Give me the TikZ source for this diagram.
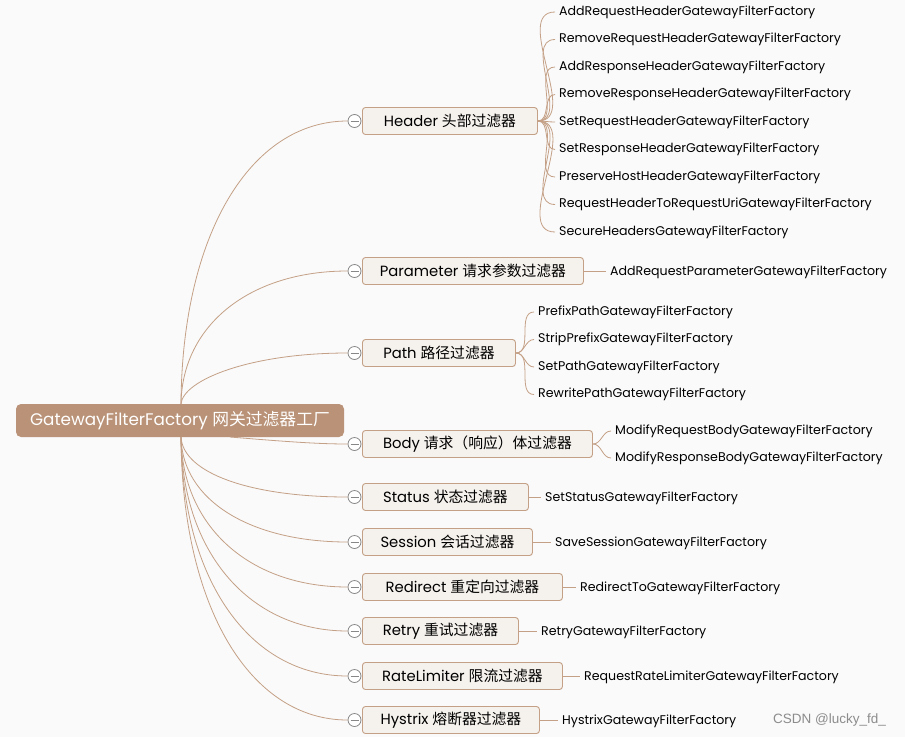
\documentclass[tikz,border=0pt]{standalone}
\usepackage{fontspec}
\setmainfont{Poppins}
\newfontfamily\cjk{Noto Sans CJK SC}
\newfontfamily\markfont{Liberation Sans}
\definecolor{bgcol}{RGB}{250,250,250}
\definecolor{rootcol}{RGB}{185,146,119}
\definecolor{linecol}{RGB}{196,160,134}
\definecolor{boxcol}{RGB}{245,241,236}
\definecolor{foldcol}{RGB}{135,135,135}
\tikzset{
  link/.style={draw=linecol, line width=0.8pt},
  rootbox/.style={fill=rootcol, text=white, rounded corners=5pt, minimum width=328pt,
    minimum height=33pt, inner sep=0pt, font=\fontsize{16.8}{19}\selectfont},
  topic/.style={anchor=west, draw=linecol, fill=boxcol, rounded corners=3pt, line width=0.9pt,
    minimum height=27pt, inner sep=0pt, font=\fontsize{14.8}{17}\selectfont},
  leaf/.style={anchor=west, inner sep=0pt, font=\fontsize{12.6}{14}\selectfont},
  fold/.style={circle, draw=foldcol, fill=white, minimum size=13pt, inner sep=0pt, line width=0.8pt,
    path picture={\draw[foldcol, line width=0.8pt] ([xshift=2.5pt]path picture bounding box.west)
      -- ([xshift=-2.5pt]path picture bounding box.east);}}
}
\begin{document}
\begin{tikzpicture}[x=1pt,y=-1pt]
\fill[bgcol] (0,0) rectangle (905,737);
\useasboundingbox (0,0) rectangle (905,737);

% root
\node[rootbox] (root) at (180,420.5) {GatewayFilterFactory {\cjk 网关过滤器工厂}};
\coordinate (rtop) at (181,404);
\coordinate (rbot) at (181,437);
\coordinate (rside) at (230,437);

% first level
\node[topic, minimum width=175pt] (hdr) at (362,121) {Header {\cjk 头部过滤器}};
\node[topic, minimum width=221pt] (par) at (362,271) {Parameter {\cjk 请求参数过滤器}};
\node[topic, minimum width=153pt] (pth) at (362,353) {Path {\cjk 路径过滤器}};
\node[topic, minimum width=230pt] (bdy) at (362,444) {Body {\cjk 请求（响应）体过滤器}};
\node[topic, minimum width=166pt] (sts) at (362,497) {Status {\cjk 状态过滤器}};
\node[topic, minimum width=170pt] (ses) at (362,542) {Session {\cjk 会话过滤器}};
\node[topic, minimum width=200pt] (rdr) at (362,587) {Redirect {\cjk 重定向过滤器}};
\node[topic, minimum width=156pt] (rty) at (362,631) {Retry {\cjk 重试过滤器}};
\node[topic, minimum width=200pt] (rtl) at (362,676) {RateLimiter {\cjk 限流过滤器}};
\node[topic, minimum width=177pt] (hys) at (362,720) {Hystrix {\cjk 熔断器过滤器}};

% fold marks
\node[fold] (hdr-c) at (354.5,121) {};
\node[fold] (par-c) at (354.5,271) {};
\node[fold] (pth-c) at (354.5,353) {};
\node[fold] (bdy-c) at (354.5,444) {};
\node[fold] (sts-c) at (354.5,497) {};
\node[fold] (ses-c) at (354.5,542) {};
\node[fold] (rdr-c) at (354.5,587) {};
\node[fold] (rty-c) at (354.5,631) {};
\node[fold] (rtl-c) at (354.5,676) {};
\node[fold] (hys-c) at (354.5,720) {};

% root to first level
\draw[link] (rtop) .. controls (182,235) and (250,121) .. (hdr-c.west);
\draw[link] (rtop) .. controls (182,325) and (250,271) .. (par-c.west);
\draw[link] (rtop) .. controls (183,380) and (250,353) .. (pth-c.west);
\draw[link] (rside) .. controls (290,442) and (320,444) .. (bdy-c.west);
\draw[link] (rbot) .. controls (183,473) and (250,497) .. (sts-c.west);
\draw[link] (rbot) .. controls (182,500) and (250,542) .. (ses-c.west);
\draw[link] (rbot) .. controls (182,527) and (250,587) .. (rdr-c.west);
\draw[link] (rbot) .. controls (182,553) and (250,631) .. (rty-c.west);
\draw[link] (rbot) .. controls (182,580) and (250,676) .. (rtl-c.west);
\draw[link] (rbot) .. controls (182,607) and (250,720) .. (hys-c.west);

% header leaves
\foreach \lf [count=\i from 0] in {AddRequestHeader,RemoveRequestHeader,AddResponseHeader,
    RemoveResponseHeader,SetRequestHeader,SetResponseHeader,PreserveHostHeader,
    RequestHeaderToRequestUri,SecureHeaders} {
  \node[leaf] (hdr-\i) at (559,12+27.5*\i) {\lf{}GatewayFilterFactory};
  \draw[link] (hdr.east) to[out=0,in=180] ([xshift=-4pt]hdr-\i.west);
}

% path leaves
\foreach \lf [count=\i from 0] in {PrefixPath,StripPrefix,SetPath,RewritePath} {
  \node[leaf] (pth-\i) at (538,312+27.5*\i) {\lf{}GatewayFilterFactory};
  \draw[link] (pth.east) to[out=0,in=180] ([xshift=-4pt]pth-\i.west);
}

% body leaves
\node[leaf] (bdy-0) at (615,431) {ModifyRequestBodyGatewayFilterFactory};
\node[leaf] (bdy-1) at (615,458) {ModifyResponseBodyGatewayFilterFactory};
\draw[link] (bdy.east) to[out=0,in=180] ([xshift=-4pt]bdy-0.west);
\draw[link] (bdy.east) to[out=0,in=180] ([xshift=-4pt]bdy-1.west);

% single leaves
\node[leaf] (par-0) at (610,272) {AddRequestParameterGatewayFilterFactory};
\node[leaf] (sts-0) at (545,498) {SetStatusGatewayFilterFactory};
\node[leaf] (ses-0) at (555,543) {SaveSessionGatewayFilterFactory};
\node[leaf] (rdr-0) at (580,588) {RedirectToGatewayFilterFactory};
\node[leaf] (rty-0) at (541,632) {RetryGatewayFilterFactory};
\node[leaf] (rtl-0) at (584,677) {RequestRateLimiterGatewayFilterFactory};
\node[leaf] (hys-0) at (562,721) {HystrixGatewayFilterFactory};
\draw[link] (par.east) -- ([xshift=-4pt]par-0.west |- par.east);
\draw[link] (sts.east) -- ([xshift=-4pt]sts-0.west |- sts.east);
\draw[link] (ses.east) -- ([xshift=-4pt]ses-0.west |- ses.east);
\draw[link] (rdr.east) -- ([xshift=-4pt]rdr-0.west |- rdr.east);
\draw[link] (rty.east) -- ([xshift=-4pt]rty-0.west |- rty.east);
\draw[link] (rtl.east) -- ([xshift=-4pt]rtl-0.west |- rtl.east);
\draw[link] (hys.east) -- ([xshift=-4pt]hys-0.west |- hys.east);

% watermark
\node[anchor=west, inner sep=0pt, text=black!45, font=\markfont\fontsize{13.5}{15}\selectfont] (mark) at (773,720) {CSDN @lucky\_fd\_};
\end{tikzpicture}
\end{document}
